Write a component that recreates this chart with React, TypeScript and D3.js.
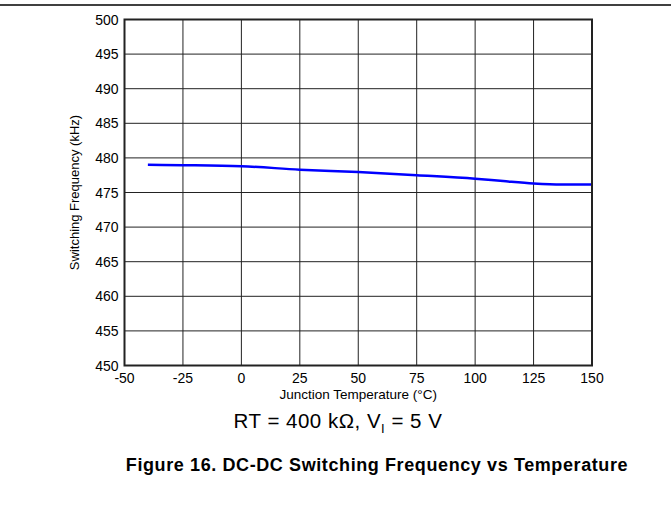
import React from "react";
import * as d3 from "d3";

const temps = [-40, -25, 0, 25, 50, 75, 100, 112, 125, 137, 150];
const freq = [479.0, 478.95, 478.8, 478.3, 477.95, 477.5, 477.0, 476.65, 476.3, 476.15, 476.15];
const xTicks = [-50, -25, 0, 25, 50, 75, 100, 125, 150];
const yTicks = [450, 455, 460, 465, 470, 475, 480, 485, 490, 495, 500];

const W = 671, H = 518;
const L = 124.5, R = 592, T = 19.5, B = 365.5;

export default function App() {
  const x = d3.scaleLinear().domain([-50, 150]).range([L, R]);
  const y = d3.scaleLinear().domain([450, 500]).range([B, T]);
  const line = d3.line<number>()
    .x((_, i) => x(temps[i]))
    .y((d) => y(d))
    .curve(d3.curveMonotoneX);
  const font = "Arial, 'Liberation Sans', sans-serif";
  return (
    <svg width={W} height={H} style={{ position: "absolute", left: 0, top: 0, display: "block" }} fontFamily={font}>
      <rect width={W} height={H} fill="#fff" />
      <line x1={0} x2={W} y1={5} y2={5} stroke="#000" strokeWidth={1.5} />
      {xTicks.map((t) => (
        <line key={"gx" + t} x1={x(t)} x2={x(t)} y1={T} y2={B} stroke="#222" strokeWidth={1} />
      ))}
      {yTicks.map((t) => (
        <line key={"gy" + t} x1={L} x2={R} y1={y(t)} y2={y(t)} stroke="#222" strokeWidth={1} />
      ))}
      <path d={line(freq) || ""} fill="none" stroke="#0000ff" strokeWidth={2.5} />
      <rect x={L} y={T} width={R - L} height={B - T} fill="none" stroke="#222" strokeWidth={2} />
      {yTicks.map((t) => (
        <text key={"ty" + t} x={L - 6} y={y(t) + 5} textAnchor="end" fontSize={14} fill="#000">{t}</text>
      ))}
      {xTicks.map((t) => (
        <text key={"tx" + t} x={x(t)} y={B + 17.5} textAnchor="middle" fontSize={14} fill="#000">{t}</text>
      ))}
      <text transform={`translate(79,${(T + B) / 2}) rotate(-90)`} textAnchor="middle" fontSize={13} fill="#000">Switching Frequency (kHz)</text>
      <text x={(L + R) / 2} y={399} textAnchor="middle" fontSize={13.5} fill="#000">Junction Temperature (°C)</text>
      <text x={338} y={428} textAnchor="middle" fontSize={20.5} letterSpacing={0.5} fill="#000">
        RT = 400 kΩ, V<tspan fontSize={13} dy={5}>I</tspan><tspan dy={-5}> = 5 V</tspan>
      </text>
      <text x={377} y={471} textAnchor="middle" fontSize={18} letterSpacing={0.6} fontWeight="bold" fill="#000">Figure 16. DC-DC Switching Frequency vs Temperature</text>
    </svg>
  );
}
